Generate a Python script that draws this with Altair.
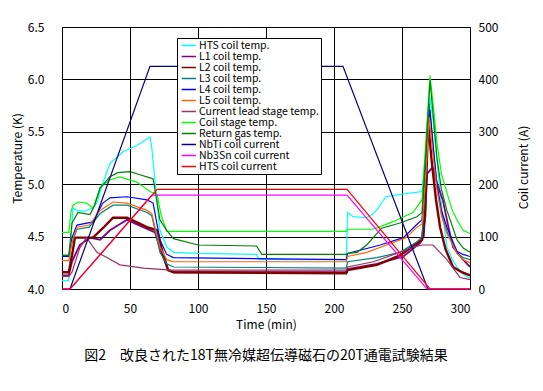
import altair as alt
import pandas as pd

# ---------------- data ----------------
SERIES = ["HTS coil temp.", "L1 coil temp.", "L2 coil temp.", "L3 coil temp.",
          "L4 coil temp.", "L5 coil temp.", "Current lead stage temp.",
          "Coil stage temp.", "Return gas temp.", "NbTi coil current",
          "Nb3Sn coil current", "HTS coil current"]

hts_t = [0, 5, 6.5, 8, 11, 16, 22, 25.7, 29.4, 35.3, 44.9, 55, 64.7, 66, 69, 72, 77, 82, 100,
         143, 145, 209, 210, 214, 224, 229, 233, 238, 253, 264.7, 267.5, 270.6, 273, 275.7,
         279, 283, 287, 290.4, 295, 300]
hts_v = [4.08, 4.08, 4.45, 4.77, 4.75, 4.74, 4.77, 4.82, 4.99, 5.20, 5.31, 5.37, 5.45, 5.35,
         4.95, 4.56, 4.40, 4.35, 4.34, 4.33, 4.28, 4.28, 4.73, 4.69, 4.68, 4.72, 4.78, 4.88,
         4.91, 4.93, 5.30, 5.83, 5.60, 5.23, 4.80, 4.40, 4.28, 4.21, 4.14, 4.10]

l1_t = [0, 5, 7.35, 13, 20.6, 28, 35.3, 47.8, 59.6, 68.4, 73, 78, 82, 209, 210, 231.6, 251,
        263.4, 266, 268.5, 272.5, 276, 280, 284, 287.5, 294.9, 300]
l1_v = [4.13, 4.13, 4.26, 4.42, 4.49, 4.47, 4.56, 4.66, 4.59, 4.54, 4.35, 4.18, 4.16, 4.16,
        4.19, 4.24, 4.31, 4.44, 4.50, 5.10, 5.16, 5.00, 4.85, 4.60, 4.40, 4.28, 4.21]

l2_t = [0, 5, 7.35, 9.5, 22.8, 30, 37.5, 47.8, 62.5, 69.9, 74, 78, 82, 209, 210, 231.6, 248.5,
        264.7, 267, 269.2, 272, 275, 278, 282, 287.5, 294, 300]
l2_v = [4.16, 4.16, 4.32, 4.49, 4.49, 4.58, 4.68, 4.68, 4.59, 4.56, 4.35, 4.18, 4.16, 4.15,
        4.18, 4.23, 4.32, 4.47, 4.70, 5.59, 5.20, 4.85, 4.59, 4.38, 4.21, 4.16, 4.13]

l3_t = [0, 5, 7.35, 11, 20, 28, 37.5, 47.8, 62.5, 66, 72, 77, 82, 209, 210, 231.6, 248.5, 261,
        264.7, 267.5, 270, 273, 275.7, 279, 283, 290.4, 294.9, 300]
l3_v = [4.32, 4.32, 4.44, 4.57, 4.59, 4.72, 4.80, 4.80, 4.73, 4.70, 4.35, 4.24, 4.21, 4.20,
        4.26, 4.30, 4.35, 4.45, 4.50, 5.10, 5.77, 5.35, 4.98, 4.72, 4.55, 4.34, 4.30, 4.28]

l4_t = [0, 5, 7.35, 11, 22.8, 30, 35.3, 47.8, 62.5, 67, 72, 77, 82, 209, 210, 234, 251, 262,
        264.7, 267.5, 270.6, 273, 275.7, 279, 283, 290.4, 294.9, 300]
l4_v = [4.31, 4.31, 4.49, 4.61, 4.64, 4.82, 4.87, 4.88, 4.85, 4.82, 4.47, 4.33, 4.30, 4.28,
        4.34, 4.42, 4.49, 4.63, 4.66, 5.20, 5.71, 5.35, 5.00, 4.75, 4.59, 4.36, 4.33, 4.31]

l5_t = [0, 5, 7.35, 11, 20, 28, 37.5, 47.8, 62.5, 66, 72, 77, 82, 209, 210, 224, 238.6, 253,
        261, 264.7, 267.5, 270, 273, 275.7, 279, 283, 290.4, 294.9, 300]
l5_v = [4.27, 4.27, 4.45, 4.59, 4.61, 4.75, 4.83, 4.82, 4.75, 4.72, 4.40, 4.28, 4.26, 4.26,
        4.31, 4.35, 4.42, 4.49, 4.59, 4.62, 5.10, 5.64, 5.25, 4.95, 4.70, 4.53, 4.34, 4.28, 4.25]

lead_t = [0, 5, 7.35, 13, 18, 25.7, 33, 42.6, 60, 80, 209, 210, 229, 248.5, 258, 265, 272.8,
          283, 292.6, 300]
lead_v = [4.12, 4.12, 4.16, 4.39, 4.49, 4.35, 4.30, 4.23, 4.20, 4.18, 4.18, 4.21, 4.26, 4.35,
          4.40, 4.42, 4.42, 4.28, 4.11, 4.09]

stage_t = [0, 5, 6.5, 8, 12, 18, 23, 28, 35, 42.6, 55, 64.7, 69.9, 73, 77, 100, 209, 210,
           228.7, 243, 258, 264.7, 267.5, 270.6, 273, 275.7, 279, 283, 287, 290.4, 294.9, 300]
stage_v = [4.54, 4.54, 4.73, 4.80, 4.83, 4.82, 4.77, 4.97, 5.04, 5.07, 5.02, 4.93, 4.90, 4.70,
           4.55, 4.55, 4.55, 4.57, 4.57, 4.64, 4.73, 4.85, 5.40, 6.04, 5.75, 5.39, 5.10, 4.92,
           4.75, 4.66, 4.56, 4.53]

gas_t = [0, 5, 6, 7.35, 11.8, 20.6, 24, 28, 35, 41, 50, 57.4, 64.7, 67, 72, 77, 82, 100, 143,
         147, 209, 210, 217, 224, 235, 248.5, 261, 264.7, 267.5, 270.6, 273, 275.7, 279, 283,
         287, 290.4, 295, 300]
gas_v = [4.32, 4.32, 4.45, 4.63, 4.73, 4.71, 4.80, 4.96, 5.07, 5.11, 5.12, 5.09, 5.06, 5.05,
         4.66, 4.56, 4.48, 4.42, 4.41, 4.33, 4.33, 4.34, 4.35, 4.42, 4.58, 4.63, 4.69, 4.73,
         5.30, 5.99, 5.65, 5.25, 4.95, 4.75, 4.60, 4.47, 4.39, 4.35]

nbti_t = [0, 5.9, 64.7, 206.6, 269, 300]
nbti_v = [0, 0, 425, 425, 0, 0]

nb3sn_t = [0, 6, 66, 209.6, 268.4, 300]
nb3sn_v = [0, 0, 179, 179, 0, 0]

htsI_t = [0, 6, 70, 209.6, 270.6, 300]
htsI_v = [0, 0, 190, 190, 0, 0]

COLORS = ["#00FFFF", "#800080", "#800000", "#008080", "#0000FF", "#FF6600",
          "#993366", "#00FF00", "#008000", "#000080", "#FF00FF", "#FF0000"]

temp_sets = [(SERIES[0], hts_t, hts_v), (SERIES[1], l1_t, l1_v), (SERIES[2], l2_t, l2_v),
             (SERIES[3], l3_t, l3_v), (SERIES[4], l4_t, l4_v), (SERIES[5], l5_t, l5_v),
             (SERIES[6], lead_t, lead_v), (SERIES[7], stage_t, stage_v),
             (SERIES[8], gas_t, gas_v)]
cur_sets = [(SERIES[9], nbti_t, nbti_v), (SERIES[10], nb3sn_t, nb3sn_v),
            (SERIES[11], htsI_t, htsI_v)]

WIDTH = {SERIES[1]: 1.8, SERIES[2]: 2.4}

rows = []
for name, ts, vs in temp_sets:
    for t, v in zip(ts, vs):
        rows.append({"series": name, "t": t, "v": v, "kind": "temp",
                     "w": WIDTH.get(name, 1.2)})
for name, ts, vs in cur_sets:
    for t, v in zip(ts, vs):
        rows.append({"series": name, "t": t, "v": v, "kind": "cur",
                     "w": WIDTH.get(name, 1.2)})
df = pd.DataFrame(rows)

FONT = "Noto Sans CJK JP"

color = alt.Color("series:N", title=None,
                  scale=alt.Scale(domain=SERIES, range=COLORS),
                  legend=alt.Legend(orient="none", legendX=115, legendY=11,
                                    fillColor="white", strokeColor="black",
                                    padding=2, symbolType="M-0.6,0H2.4", symbolSize=90,
                                    symbolStrokeWidth=1.5, labelFontSize=10.5,
                                    labelFont=FONT, rowPadding=0, labelOffset=9,
                                    labelColor="black"))

x = alt.X("t:Q", title="Time (min)",
          scale=alt.Scale(domain=[0, 300], nice=False),
          axis=alt.Axis(values=[0, 50, 100, 150, 200, 250, 300], grid=True,
                        gridColor="black", gridOpacity=1, ticks=False, labelPadding=14,
                        domainColor="black", labelFontSize=12, titleFontSize=12,
                        titleFontWeight="normal", labelFont=FONT, titleFont=FONT,
                        labelColor="black", titleColor="black",
                        titleBaseline="middle", titleY=35))

base = alt.Chart(df)

temp = base.transform_filter(alt.datum.kind == "temp").mark_line().encode(
    x=x,
    y=alt.Y("v:Q", title="Temperature (K)",
            scale=alt.Scale(domain=[4.0, 6.5], nice=False, zero=False),
            axis=alt.Axis(values=[4.0, 4.5, 5.0, 5.5, 6.0, 6.5], format=".1f", grid=True,
                          gridColor="black", gridOpacity=1, ticks=False, labelPadding=18,
                          domainColor="black", labelFontSize=12, titleFontSize=12,
                          titleFontWeight="normal", labelFont=FONT, titleFont=FONT,
                          labelColor="black", titleColor="black", titleAngle=270,
                          titleBaseline="middle", titleX=-45, titleY=131)),
    color=color,
    strokeWidth=alt.StrokeWidth("w:Q", scale=None, legend=None),
    order=alt.Order("t:Q"),
)

cur = base.transform_filter(alt.datum.kind == "cur").mark_line().encode(
    x=x,
    y=alt.Y("v:Q", title="Coil current  (A)",
            scale=alt.Scale(domain=[0, 500], nice=False),
            axis=alt.Axis(orient="right", values=[0, 100, 200, 300, 400, 500], grid=False,
                          ticks=False, labelPadding=8, domainColor="black",
                          labelFontSize=12, titleFontSize=12, titleFontWeight="normal",
                          labelFont=FONT, titleFont=FONT, labelColor="black",
                          titleColor="black", titleAngle=270, titleBaseline="middle",
                          titleX=53, titleY=140)),
    color=color,
    strokeWidth=alt.StrokeWidth("w:Q", scale=None, legend=None),
    order=alt.Order("t:Q"),
)

chart = alt.layer(temp, cur).resolve_scale(y="independent").properties(
    width=408, height=262,
    autosize=alt.AutoSizeParams(type="none"),
    padding={"left": 54, "top": 19, "right": 65, "bottom": 90},
    title=alt.TitleParams(text="図2　改良された18T無冷媒超伝導磁石の20T通電試験結果",
                          orient="bottom", anchor="middle", font=FONT, fontSize=14,
                          fontWeight="normal", color="black", offset=19),
).configure_view(stroke="black", strokeWidth=1).configure(background="white")

chart.save("out.html", embed_options={"renderer": "svg", "actions": False})
